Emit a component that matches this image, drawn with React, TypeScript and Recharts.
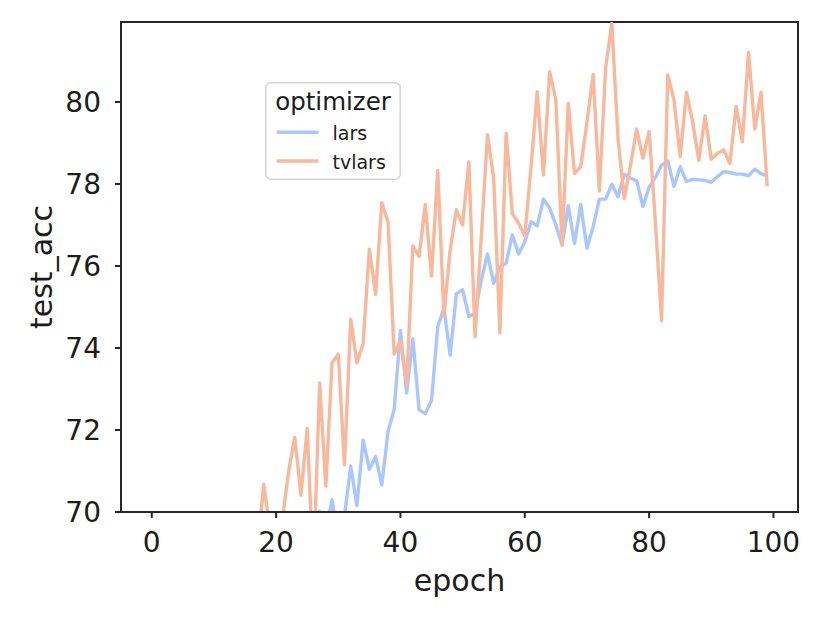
import React from 'react';
import { LineChart, Line, XAxis, YAxis, Legend, ReferenceArea } from 'recharts';

// epoch index on the x axis
const epochs = Array.from({ length: 100 }, (_, i) => i);

// test accuracy per epoch (values under 70 sit outside the view)
const larsAcc = [
  30.4, 39.8, 45.1, 49.6, 52.3, 54.9, 56.2, 58.0, 59.3, 60.1,
  61.5, 62.4, 63.0, 63.9, 64.6, 65.1, 65.8, 66.3, 66.0, 67.2,
  67.5, 68.1, 67.7, 68.6, 68.9, 68.4, 69.4, 70.02, 69.5, 70.3,
  69.3, 69.9, 71.12, 70.15, 71.76, 71.04, 71.35, 70.66, 71.96, 72.5,
  74.43, 72.9, 74.22, 72.49, 72.4, 72.72, 74.52, 74.97, 73.83, 75.32,
  75.42, 74.77, 74.85, 75.65, 76.29, 75.58, 75.97, 76.07, 76.76, 76.29,
  76.59, 77.08, 76.98, 77.63, 77.41, 77.0, 76.51, 77.47, 76.55, 77.5,
  76.43, 76.96, 77.63, 77.63, 77.99, 77.69, 78.24, 78.14, 78.08, 77.45,
  77.92, 78.16, 78.46, 78.56, 77.94, 78.42, 78.06, 78.11, 78.1, 78.09,
  78.04, 78.18, 78.3, 78.28, 78.24, 78.24, 78.2, 78.36, 78.25, 78.2,
];

const tvlarsAcc = [
  38.5, 46.2, 51.3, 54.8, 57.9, 59.4, 61.2, 62.6, 63.1, 64.5,
  65.3, 66.0, 65.7, 67.1, 67.6, 68.2, 68.0, 69.0, 70.68, 69.6,
  68.8, 69.8, 70.98, 71.82, 70.41, 72.04, 68.5, 73.15, 70.63, 73.64,
  73.85, 71.15, 74.7, 73.64, 74.11, 76.41, 75.31, 77.54, 77.08, 73.85,
  74.18, 73.1, 76.49, 76.23, 77.5, 75.76, 78.33, 74.8, 76.39, 77.37,
  77.0, 78.54, 74.27, 76.7, 79.2, 78.14, 74.37, 79.24, 77.28, 77.04,
  76.73, 78.4, 80.25, 78.22, 80.74, 80.05, 76.51, 79.97, 78.26, 78.42,
  79.5, 80.67, 77.83, 80.82, 81.92, 79.11, 77.65, 78.45, 79.34, 78.63,
  79.28, 77.1, 74.66, 80.66, 80.05, 78.67, 80.24, 79.52, 78.57, 79.66,
  78.6, 78.75, 78.83, 78.5, 79.89, 79.03, 81.21, 79.34, 80.24, 77.94,
];

const xTicks = [0, 20, 40, 60, 80, 100];
const yTicks = [70, 72, 74, 76, 78, 80];

const data = epochs.map((epoch, i) => ({
  epoch,
  lars: larsAcc[i],
  tvlars: tvlarsAcc[i],
}));

const INK = '#1c1c1c';
const FONT = "'DejaVu Sans', sans-serif";
const X_DOMAIN = [-4.95, 103.95];
const Y_DOMAIN = [70, 81.95];

const tickStyle = { fontSize: 28, fill: INK, fontFamily: FONT };
const axisLineStyle = { stroke: '#262626', strokeWidth: 2 };

const LegendBox = ({ payload }: any) => {
  const items = (payload || []).filter((p: any) => p.type !== 'none');
  return (
    <svg width={136} height={98} style={{ display: 'block', overflow: 'visible' }}>
      <rect x={0.75} y={0.75} width={134.5} height={96.5} rx={5} fill="#fff" fillOpacity={0.8} stroke="#d4d4d4" strokeWidth={1.5} />
      <text x={68} y={27.5} textAnchor="middle" fontSize={24.5} fill={INK} fontFamily={FONT}>optimizer</text>
      {items.map((item: any, i: number) => (
        <g key={item.value}>
          <line x1={11.7} x2={53.3} y1={50.3 + i * 28.7} y2={50.3 + i * 28.7} stroke={item.color} strokeWidth={3.4} />
          <text x={67.5} y={57.5 + i * 29} fontSize={19} fill={INK} fontFamily={FONT}>{item.value}</text>
        </g>
      ))}
    </svg>
  );
};

export default function App() {
  return (
    <div style={{ position: 'absolute', left: 0, top: 0, width: 830, height: 623, background: '#fff' }}>
      <LineChart
        width={830}
        height={623}
        data={data}
        margin={{ top: 22, right: 32, bottom: 31, left: 21 }}
        style={{ fontFamily: FONT }}
      >
        <XAxis
          dataKey="epoch"
          type="number"
          domain={X_DOMAIN}
          ticks={xTicks}
          allowDataOverflow
          height={80}
          tick={tickStyle}
          tickSize={6}
          tickMargin={14}
          axisLine={axisLineStyle}
          tickLine={axisLineStyle}
          label={{ value: 'epoch', position: 'insideBottom', offset: 1, style: { fontSize: 30, fill: INK, fontFamily: FONT } }}
        />
        <YAxis
          type="number"
          domain={Y_DOMAIN}
          ticks={yTicks}
          allowDataOverflow
          width={100}
          tick={tickStyle}
          tickSize={6}
          tickMargin={14}
          axisLine={axisLineStyle}
          tickLine={axisLineStyle}
          label={{
            value: 'test_acc',
            angle: -90,
            position: 'insideLeft',
            offset: 20,
            style: { textAnchor: 'middle', fontSize: 30, fill: INK, fontFamily: FONT },
          }}
        />
        {/* full frame round the plot area */}
        <ReferenceArea
          x1={X_DOMAIN[0]}
          x2={X_DOMAIN[1]}
          y1={Y_DOMAIN[0]}
          y2={Y_DOMAIN[1]}
          fill="none"
          stroke="#262626"
          strokeWidth={2}
          ifOverflow="visible"
        />
        <Legend
          layout="horizontal"
          verticalAlign="middle"
          align="center"
          content={<LegendBox />}
          wrapperStyle={{ position: 'absolute', left: 265, top: 82, width: 136, height: 98 }}
        />
        <Line
          type="linear"
          dataKey="lars"
          name="lars"
          stroke="#aac7fd"
          strokeWidth={3.4}
          strokeLinejoin="round"
          dot={false}
          activeDot={false}
          isAnimationActive={false}
        />
        <Line
          type="linear"
          dataKey="tvlars"
          name="tvlars"
          stroke="#f7b89c"
          strokeWidth={3.4}
          strokeLinejoin="round"
          dot={false}
          activeDot={false}
          isAnimationActive={false}
        />
      </LineChart>
    </div>
  );
}
